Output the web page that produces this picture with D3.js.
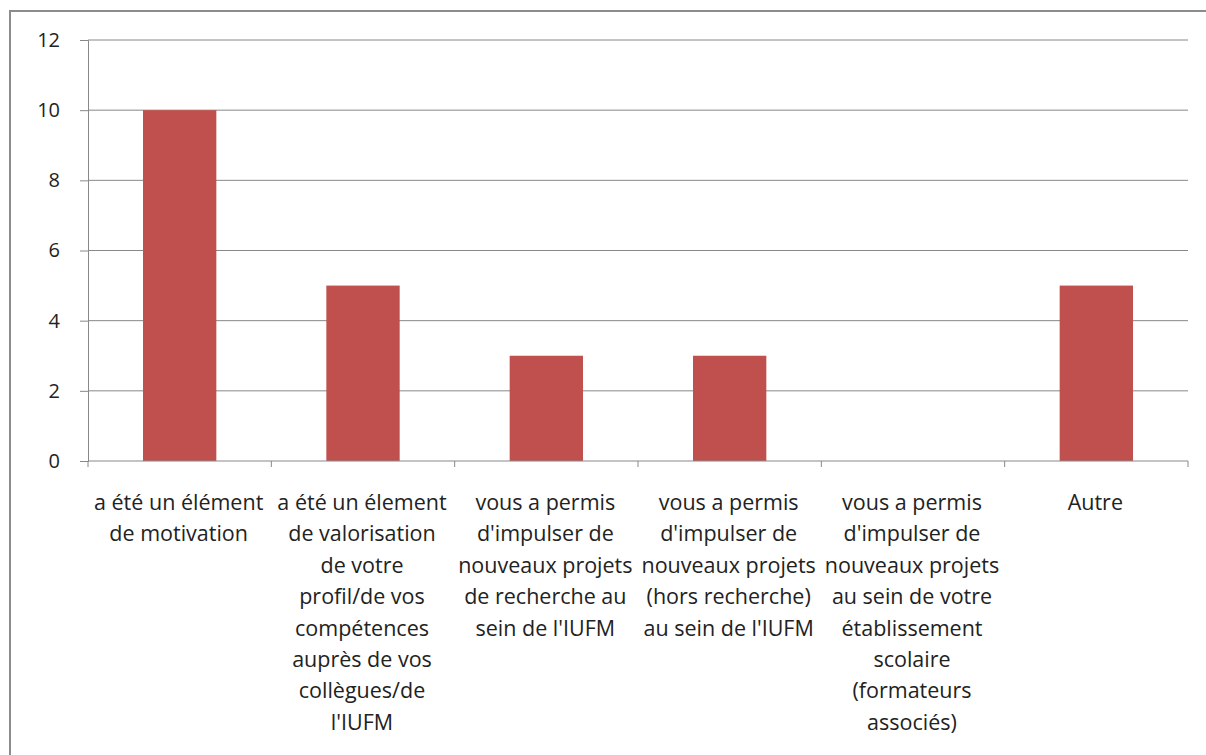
<!DOCTYPE html>
<html>
<head>
    <meta charset="utf-8">
    <script src="https://cdn.jsdelivr.net/npm/d3@7"></script>
    <style>
        body { margin: 0; background: #fff; }
    </style>
</head>
<body>
    <div id="chart"></div>

    <script>
        // data
        const categories = [
            ["a été un élément", "de motivation"],
            ["a été un élement", "de valorisation", "de votre", "profil/de vos", "compétences", "auprès de vos", "collègues/de", "l'IUFM"],
            ["vous a permis", "d'impulser de", "nouveaux projets", "de recherche au", "sein de l'IUFM"],
            ["vous a permis", "d'impulser de", "nouveaux projets", "(hors recherche)", "au sein de l'IUFM"],
            ["vous a permis", "d'impulser de", "nouveaux projets", "au sein de votre", "établissement", "scolaire", "(formateurs", "associés)"],
            ["Autre"]
        ];
        const values = [10, 5, 3, 3, 0, 5];
        const yTicks = [0, 2, 4, 6, 8, 10, 12];

        const width = 1206, height = 755;
        const margin = { top: 40, right: 18, bottom: 294, left: 88 };

        const svg = d3.select("#chart")
            .append("svg")
            .attr("width", width)
            .attr("height", height);

        // outer frame
        svg.append("rect")
            .attr("x", 10)
            .attr("y", 11)
            .attr("width", width + 20)
            .attr("height", height + 20)
            .attr("fill", "none")
            .attr("stroke", "#8c8c8c")
            .attr("stroke-width", 2);

        const x = d3.scaleBand()
            .domain(d3.range(categories.length))
            .range([margin.left, width - margin.right])
            .paddingInner(0.6)
            .paddingOuter(0.3);

        const y = d3.scaleLinear()
            .domain([0, 12])
            .range([height - margin.bottom, margin.top]);

        // y axis + ticks
        const yAxis = svg.append("g")
            .attr("transform", `translate(${margin.left},0)`)
            .call(d3.axisLeft(y)
                .tickValues(yTicks)
                .tickSize(8)
                .tickPadding(20));
        yAxis.select(".domain").attr("stroke", "#888");
        yAxis.selectAll(".tick line").attr("stroke", "#888");
        yAxis.selectAll(".tick text")
            .attr("fill", "#222")
            .style("font-family", "'Open Sans', sans-serif")
            .style("font-size", "20px");

        // gridlines
        svg.append("g")
            .selectAll("line")
            .data(yTicks.filter(d => d > 0))
            .join("line")
            .attr("x1", margin.left)
            .attr("x2", width - margin.right)
            .attr("y1", d => y(d))
            .attr("y2", d => y(d))
            .attr("stroke", "#888")
            .attr("stroke-width", 1);

        // bars
        svg.append("g")
            .selectAll("rect")
            .data(values)
            .join("rect")
            .attr("x", (d, i) => x(i))
            .attr("y", d => y(d))
            .attr("width", x.bandwidth())
            .attr("height", d => y(0) - y(d))
            .attr("fill", "#c0504d");

        // x axis line and boundary ticks
        const step = x.step();
        const bounds = d3.range(categories.length + 1).map(i => margin.left + i * step);
        svg.append("line")
            .attr("x1", margin.left)
            .attr("x2", width - margin.right)
            .attr("y1", y(0))
            .attr("y2", y(0))
            .attr("stroke", "#888");
        svg.append("g")
            .selectAll("line")
            .data(bounds)
            .join("line")
            .attr("x1", d => d)
            .attr("x2", d => d)
            .attr("y1", y(0))
            .attr("y2", y(0) + 6)
            .attr("stroke", "#888");

        // category labels
        const lineH = 31.4;
        const labels = svg.append("g")
            .selectAll("text")
            .data(categories)
            .join("text")
            .attr("x", (d, i) => x(i) + x.bandwidth() / 2 - 1)
            .attr("y", y(0) + 49)
            .attr("text-anchor", "middle")
            .attr("fill", "#222")
            .style("font-family", "'Open Sans', sans-serif")
            .style("font-size", "21.5px");

        labels.selectAll("tspan")
            .data(d => d)
            .join("tspan")
            .attr("x", function () { return this.parentNode.getAttribute("x"); })
            .attr("dy", (d, i) => i === 0 ? 0 : lineH)
            .text(d => d);
    </script>
</body>
</html>
